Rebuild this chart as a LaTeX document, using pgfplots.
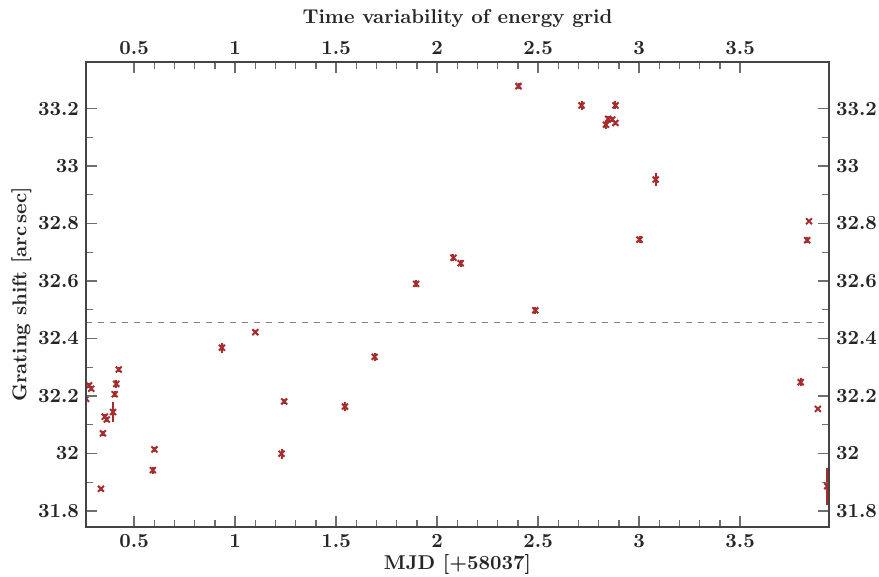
\documentclass[border=0pt]{standalone}
\usepackage{pgfplots}
\pgfplotsset{compat=1.18}
\usepackage{pgfplotstable}
\definecolor{pt}{RGB}{168,44,44}
\definecolor{axc}{RGB}{68,68,68}
\definecolor{tkc}{RGB}{110,110,110}
\pgfplotstableread{
x y ey
0.262 32.190 0.008
0.277 32.237 0.008
0.288 32.225 0.008
0.336 31.877 0.006
0.346 32.070 0.008
0.355 32.128 0.008
0.365 32.118 0.008
0.396 32.144 0.036
0.404 32.206 0.010
0.412 32.242 0.014
0.424 32.292 0.008
0.593 31.942 0.012
0.601 32.014 0.010
0.935 32.368 0.017
1.100 32.422 0.008
1.230 31.999 0.017
1.243 32.181 0.010
1.544 32.163 0.017
1.691 32.336 0.014
1.896 32.590 0.012
2.081 32.681 0.012
2.117 32.662 0.012
2.403 33.278 0.010
2.486 32.498 0.012
2.715 33.211 0.017
2.836 33.144 0.014
2.847 33.164 0.010
2.867 33.162 0.010
2.883 33.211 0.014
2.883 33.150 0.008
3.002 32.744 0.012
3.082 32.953 0.024
3.800 32.248 0.014
3.832 32.742 0.010
3.841 32.808 0.005
3.885 32.155 0.005
3.931 31.886 0.064
}\datatab
\pgfplotsset{
  common/.style={
    width=371.5pt, height=232.5pt, scale only axis,
    xmin=0.262, xmax=3.94, ymin=31.744, ymax=33.362,
    xtick={0.5,1,1.5,2,2.5,3,3.5},
    ytick={31.8,32,32.2,32.4,32.6,32.8,33,33.2},
    minor x tick num=4, minor y tick num=1,
    tick align=inside,
    major tick length=5.5pt, minor tick length=3.5pt,
    axis line style={axc, line width=0.75pt},
    every tick/.style={tkc, line width=0.65pt},
    tick label style={font=\bfseries, text=black!85},
    label style={font=\bfseries, text=black!85},
    /pgf/number format/assume math mode=true,
  }
}
\begin{document}
\begin{tikzpicture}
\begin{axis}[common, name=main,
  xtick pos=both, ytick pos=both,
  xticklabel pos=bottom, yticklabel pos=left,
  xlabel={MJD [+58037]}, ylabel={Grating shift [arc\,sec]},
  xlabel style={yshift=3.5pt}, ylabel style={yshift=-3.5pt},
  clip mode=individual, clip marker paths=true]
\addplot[gray, line width=0.8pt, dash pattern=on 3pt off 3pt] coordinates {(0.262,32.456) (3.94,32.456)};
\addplot[only marks, mark=x, mark size=2.1pt, pt, mark options={line width=1pt},
  error bars/.cd, y dir=both, y explicit, error mark=none,
  error bar style={pt, line width=1pt}]
  table[x=x, y=y, y error=ey] {\datatab};
\end{axis}
\begin{axis}[common,
  xtick pos=both, ytick pos=both,
  xticklabel pos=top, yticklabel pos=right,
  xlabel={Time variability of energy grid}]
\end{axis}
\pgfresetboundingbox
\path ([xshift=-43pt,yshift=-24.5pt]main.south west) rectangle ([xshift=25pt,yshift=31pt]main.north east);
\end{tikzpicture}
\end{document}
